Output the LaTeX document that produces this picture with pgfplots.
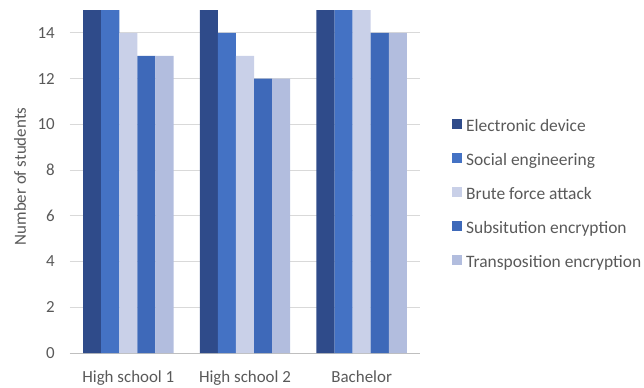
\documentclass[border=0pt]{standalone}
\usepackage{fontspec}
\setmainfont{Carlito}
\usepackage{pgfplots}
\pgfplotsset{compat=1.18}
\definecolor{cA}{HTML}{2F4B8A}
\definecolor{cB}{HTML}{4472C4}
\definecolor{cC}{HTML}{C9D0E8}
\definecolor{cD}{HTML}{3E69B9}
\definecolor{cE}{HTML}{B2BDDE}
\definecolor{txt}{HTML}{595959}
\begin{document}
\begin{tikzpicture}
\begin{axis}[
  at={(0,0)}, anchor=south west,
  scale only axis, width=350bp, height=353bp,
  xmin=-0.5, xmax=2.5, ymin=0, ymax=15.44,
  ybar=0pt, bar width=0.155,
  xtick={0,1,2}, xticklabels={High school 1,High school 2,Bachelor},
  ytick={0,2,...,14},
  axis line style={draw=none},
  tick style={draw=none},
  ymajorgrids, grid style={color=black!15, line width=0.9bp},
  extra y ticks={0}, extra y tick labels={},
  extra y tick style={grid style={color=black!25, line width=1bp}},
  /pgf/number format/assume math mode=true,
  ticklabel style={font=\fontsize{17}{19}\selectfont, text=txt},
  yticklabel style={inner sep=0pt, xshift=-15bp},
  xticklabel style={inner sep=0pt, yshift=-13bp},
  ylabel={Number of students},
  ylabel style={at={(axis description cs:-0.143,0.5)}, anchor=center, font=\fontsize{17}{19}\selectfont, text=txt},
  legend style={at={(axis description cs:1.0914,0.448)}, anchor=west, draw=none, fill=none, inner sep=0pt,
    font=\fontsize{17.5}{19}\selectfont, text=txt, row sep=17.5bp,
    nodes={inner xsep=4bp, inner ysep=0pt, text height=11bp, text depth=4bp}},
  legend cell align=left,
  legend image code/.code={\fill[#1,draw=none] (0bp,-1bp) rectangle (10bp,9bp);},
  clip=false,
]
\addplot[fill=cA, draw=none] coordinates {(0,15) (1,15) (2,15)};
\addplot[fill=cB, draw=none] coordinates {(0,15) (1,14) (2,15)};
\addplot[fill=cC, draw=none] coordinates {(0,14) (1,13) (2,15)};
\addplot[fill=cD, draw=none] coordinates {(0,13) (1,12) (2,14)};
\addplot[fill=cE, draw=none] coordinates {(0,13) (1,12) (2,14)};
\legend{Electronic device,Social engineering,Brute force attack,Subsitution encryption,Transposition encryption}
\end{axis}
\pgfresetboundingbox
\path (-70bp,-35bp) rectangle (574bp,353bp);
\end{tikzpicture}
\end{document}
